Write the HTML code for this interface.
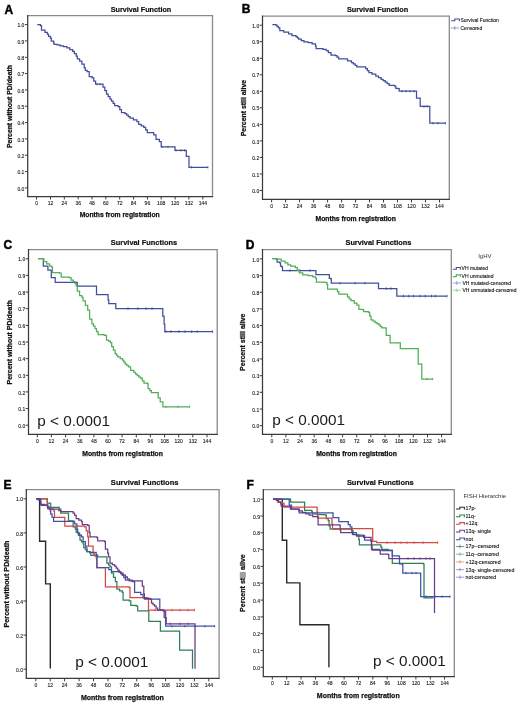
<!DOCTYPE html><html><head><meta charset="utf-8"><style>html,body{margin:0;padding:0;background:#fff;width:520px;height:705px;overflow:hidden}svg{display:block;filter:blur(0.3px)}text{font-family:"Liberation Sans",sans-serif}.t{font-size:5px;fill:#222;stroke:#222;stroke-width:0.12px}.L{font-size:12px;font-weight:bold;fill:#000;stroke:#000;stroke-width:0.45px}.ti{font-size:7.3px;font-weight:bold;fill:#111;stroke:#111;stroke-width:0.2px}.al{font-size:6.8px;font-weight:bold;fill:#111;stroke:#111;stroke-width:0.25px}.lg{font-size:5px;fill:#111;stroke:#111;stroke-width:0.1px}.lt{font-size:6px;fill:#333}.pv{font-size:15.3px;fill:#1a1a1a}</style></head><body>
<svg width="520" height="705" viewBox="0 0 520 705">
<rect width="520" height="705" fill="#fff"/>
<path d="M27.7 15.7H212.5V196.5" fill="none" stroke="#8a8a8a" stroke-width="1.3"/>
<path d="M27.7 15.1V196.5H213.1" fill="none" stroke="#3a3a3a" stroke-width="1.25"/>
<path d="M24.9 187.9H27.7" stroke="#3a3a3a" stroke-width="1"/>
<text x="24.4" y="190.5" text-anchor="end" class="t">0.0</text>
<path d="M24.9 171.6H27.7" stroke="#3a3a3a" stroke-width="1"/>
<text x="24.4" y="174.2" text-anchor="end" class="t">0.1</text>
<path d="M24.9 155.2H27.7" stroke="#3a3a3a" stroke-width="1"/>
<text x="24.4" y="157.8" text-anchor="end" class="t">0.2</text>
<path d="M24.9 138.9H27.7" stroke="#3a3a3a" stroke-width="1"/>
<text x="24.4" y="141.5" text-anchor="end" class="t">0.3</text>
<path d="M24.9 122.6H27.7" stroke="#3a3a3a" stroke-width="1"/>
<text x="24.4" y="125.2" text-anchor="end" class="t">0.4</text>
<path d="M24.9 106.2H27.7" stroke="#3a3a3a" stroke-width="1"/>
<text x="24.4" y="108.8" text-anchor="end" class="t">0.5</text>
<path d="M24.9 89.9H27.7" stroke="#3a3a3a" stroke-width="1"/>
<text x="24.4" y="92.5" text-anchor="end" class="t">0.6</text>
<path d="M24.9 73.6H27.7" stroke="#3a3a3a" stroke-width="1"/>
<text x="24.4" y="76.2" text-anchor="end" class="t">0.7</text>
<path d="M24.9 57.3H27.7" stroke="#3a3a3a" stroke-width="1"/>
<text x="24.4" y="59.9" text-anchor="end" class="t">0.8</text>
<path d="M24.9 40.9H27.7" stroke="#3a3a3a" stroke-width="1"/>
<text x="24.4" y="43.5" text-anchor="end" class="t">0.9</text>
<path d="M24.9 24.6H27.7" stroke="#3a3a3a" stroke-width="1"/>
<text x="24.4" y="27.2" text-anchor="end" class="t">1.0</text>
<path d="M36.6 196.5V199.5" stroke="#3a3a3a" stroke-width="1"/>
<text x="36.6" y="204.9" text-anchor="middle" class="t">0</text>
<path d="M50.5 196.5V199.5" stroke="#3a3a3a" stroke-width="1"/>
<text x="50.5" y="204.9" text-anchor="middle" class="t">12</text>
<path d="M64.3 196.5V199.5" stroke="#3a3a3a" stroke-width="1"/>
<text x="64.3" y="204.9" text-anchor="middle" class="t">24</text>
<path d="M78.2 196.5V199.5" stroke="#3a3a3a" stroke-width="1"/>
<text x="78.2" y="204.9" text-anchor="middle" class="t">36</text>
<path d="M92.0 196.5V199.5" stroke="#3a3a3a" stroke-width="1"/>
<text x="92.0" y="204.9" text-anchor="middle" class="t">48</text>
<path d="M105.8 196.5V199.5" stroke="#3a3a3a" stroke-width="1"/>
<text x="105.8" y="204.9" text-anchor="middle" class="t">60</text>
<path d="M119.7 196.5V199.5" stroke="#3a3a3a" stroke-width="1"/>
<text x="119.7" y="204.9" text-anchor="middle" class="t">72</text>
<path d="M133.6 196.5V199.5" stroke="#3a3a3a" stroke-width="1"/>
<text x="133.6" y="204.9" text-anchor="middle" class="t">84</text>
<path d="M147.4 196.5V199.5" stroke="#3a3a3a" stroke-width="1"/>
<text x="147.4" y="204.9" text-anchor="middle" class="t">96</text>
<path d="M161.2 196.5V199.5" stroke="#3a3a3a" stroke-width="1"/>
<text x="161.2" y="204.9" text-anchor="middle" class="t">108</text>
<path d="M175.1 196.5V199.5" stroke="#3a3a3a" stroke-width="1"/>
<text x="175.1" y="204.9" text-anchor="middle" class="t">120</text>
<path d="M188.9 196.5V199.5" stroke="#3a3a3a" stroke-width="1"/>
<text x="188.9" y="204.9" text-anchor="middle" class="t">132</text>
<path d="M202.8 196.5V199.5" stroke="#3a3a3a" stroke-width="1"/>
<text x="202.8" y="204.9" text-anchor="middle" class="t">144</text>
<text x="4.4" y="13.8" class="L">A</text>
<text x="141.0" y="11.8" text-anchor="middle" class="ti" style="font-size:7.22px">Survival Function</text>
<text x="119.7" y="217.0" text-anchor="middle" class="al" style="font-size:6.75px">Months from registration</text>
<text transform="translate(11.6 106.5) rotate(-90)" x="0" y="0" text-anchor="middle" class="al" style="font-size:6.85px">Percent without PD/death</text>
<path d="M262.5 16.2H449.3V199.4" fill="none" stroke="#8a8a8a" stroke-width="1.3"/>
<path d="M262.5 15.6V199.4H449.9" fill="none" stroke="#3a3a3a" stroke-width="1.25"/>
<path d="M259.7 190.5H262.5" stroke="#3a3a3a" stroke-width="1"/>
<text x="259.2" y="193.1" text-anchor="end" class="t">0.0</text>
<path d="M259.7 174.0H262.5" stroke="#3a3a3a" stroke-width="1"/>
<text x="259.2" y="176.6" text-anchor="end" class="t">0.1</text>
<path d="M259.7 157.4H262.5" stroke="#3a3a3a" stroke-width="1"/>
<text x="259.2" y="160.0" text-anchor="end" class="t">0.2</text>
<path d="M259.7 140.9H262.5" stroke="#3a3a3a" stroke-width="1"/>
<text x="259.2" y="143.5" text-anchor="end" class="t">0.3</text>
<path d="M259.7 124.4H262.5" stroke="#3a3a3a" stroke-width="1"/>
<text x="259.2" y="127.0" text-anchor="end" class="t">0.4</text>
<path d="M259.7 107.8H262.5" stroke="#3a3a3a" stroke-width="1"/>
<text x="259.2" y="110.4" text-anchor="end" class="t">0.5</text>
<path d="M259.7 91.3H262.5" stroke="#3a3a3a" stroke-width="1"/>
<text x="259.2" y="93.9" text-anchor="end" class="t">0.6</text>
<path d="M259.7 74.8H262.5" stroke="#3a3a3a" stroke-width="1"/>
<text x="259.2" y="77.4" text-anchor="end" class="t">0.7</text>
<path d="M259.7 58.3H262.5" stroke="#3a3a3a" stroke-width="1"/>
<text x="259.2" y="60.9" text-anchor="end" class="t">0.8</text>
<path d="M259.7 41.7H262.5" stroke="#3a3a3a" stroke-width="1"/>
<text x="259.2" y="44.3" text-anchor="end" class="t">0.9</text>
<path d="M259.7 25.2H262.5" stroke="#3a3a3a" stroke-width="1"/>
<text x="259.2" y="27.8" text-anchor="end" class="t">1.0</text>
<path d="M271.6 199.4V202.4" stroke="#3a3a3a" stroke-width="1"/>
<text x="271.6" y="207.8" text-anchor="middle" class="t">0</text>
<path d="M285.6 199.4V202.4" stroke="#3a3a3a" stroke-width="1"/>
<text x="285.6" y="207.8" text-anchor="middle" class="t">12</text>
<path d="M299.6 199.4V202.4" stroke="#3a3a3a" stroke-width="1"/>
<text x="299.6" y="207.8" text-anchor="middle" class="t">24</text>
<path d="M313.6 199.4V202.4" stroke="#3a3a3a" stroke-width="1"/>
<text x="313.6" y="207.8" text-anchor="middle" class="t">36</text>
<path d="M327.6 199.4V202.4" stroke="#3a3a3a" stroke-width="1"/>
<text x="327.6" y="207.8" text-anchor="middle" class="t">48</text>
<path d="M341.6 199.4V202.4" stroke="#3a3a3a" stroke-width="1"/>
<text x="341.6" y="207.8" text-anchor="middle" class="t">60</text>
<path d="M355.5 199.4V202.4" stroke="#3a3a3a" stroke-width="1"/>
<text x="355.5" y="207.8" text-anchor="middle" class="t">72</text>
<path d="M369.5 199.4V202.4" stroke="#3a3a3a" stroke-width="1"/>
<text x="369.5" y="207.8" text-anchor="middle" class="t">84</text>
<path d="M383.5 199.4V202.4" stroke="#3a3a3a" stroke-width="1"/>
<text x="383.5" y="207.8" text-anchor="middle" class="t">96</text>
<path d="M397.5 199.4V202.4" stroke="#3a3a3a" stroke-width="1"/>
<text x="397.5" y="207.8" text-anchor="middle" class="t">108</text>
<path d="M411.5 199.4V202.4" stroke="#3a3a3a" stroke-width="1"/>
<text x="411.5" y="207.8" text-anchor="middle" class="t">120</text>
<path d="M425.5 199.4V202.4" stroke="#3a3a3a" stroke-width="1"/>
<text x="425.5" y="207.8" text-anchor="middle" class="t">132</text>
<path d="M439.5 199.4V202.4" stroke="#3a3a3a" stroke-width="1"/>
<text x="439.5" y="207.8" text-anchor="middle" class="t">144</text>
<text x="241.8" y="12.9" class="L">B</text>
<text x="377.5" y="11.5" text-anchor="middle" class="ti" style="font-size:7.3px">Survival Function</text>
<text x="355.7" y="220.6" text-anchor="middle" class="al" style="font-size:6.8px">Months from registration</text>
<text transform="translate(245.6 108.1) rotate(-90)" x="0" y="0" text-anchor="middle" class="al" style="font-size:6.9px">Percent still alive</text>
<path d="M28.5 249.6H217.2V434.3" fill="none" stroke="#8a8a8a" stroke-width="1.3"/>
<path d="M28.5 249.0V434.3H217.8" fill="none" stroke="#3a3a3a" stroke-width="1.25"/>
<path d="M25.7 425.2H28.5" stroke="#3a3a3a" stroke-width="1"/>
<text x="25.2" y="427.8" text-anchor="end" class="t">0.0</text>
<path d="M25.7 408.6H28.5" stroke="#3a3a3a" stroke-width="1"/>
<text x="25.2" y="411.2" text-anchor="end" class="t">0.1</text>
<path d="M25.7 391.9H28.5" stroke="#3a3a3a" stroke-width="1"/>
<text x="25.2" y="394.5" text-anchor="end" class="t">0.2</text>
<path d="M25.7 375.3H28.5" stroke="#3a3a3a" stroke-width="1"/>
<text x="25.2" y="377.9" text-anchor="end" class="t">0.3</text>
<path d="M25.7 358.6H28.5" stroke="#3a3a3a" stroke-width="1"/>
<text x="25.2" y="361.2" text-anchor="end" class="t">0.4</text>
<path d="M25.7 342.0H28.5" stroke="#3a3a3a" stroke-width="1"/>
<text x="25.2" y="344.6" text-anchor="end" class="t">0.5</text>
<path d="M25.7 325.4H28.5" stroke="#3a3a3a" stroke-width="1"/>
<text x="25.2" y="328.0" text-anchor="end" class="t">0.6</text>
<path d="M25.7 308.7H28.5" stroke="#3a3a3a" stroke-width="1"/>
<text x="25.2" y="311.3" text-anchor="end" class="t">0.7</text>
<path d="M25.7 292.1H28.5" stroke="#3a3a3a" stroke-width="1"/>
<text x="25.2" y="294.7" text-anchor="end" class="t">0.8</text>
<path d="M25.7 275.4H28.5" stroke="#3a3a3a" stroke-width="1"/>
<text x="25.2" y="278.0" text-anchor="end" class="t">0.9</text>
<path d="M25.7 258.8H28.5" stroke="#3a3a3a" stroke-width="1"/>
<text x="25.2" y="261.4" text-anchor="end" class="t">1.0</text>
<path d="M37.3 434.3V437.3" stroke="#3a3a3a" stroke-width="1"/>
<text x="37.3" y="442.7" text-anchor="middle" class="t">0</text>
<path d="M51.4 434.3V437.3" stroke="#3a3a3a" stroke-width="1"/>
<text x="51.4" y="442.7" text-anchor="middle" class="t">12</text>
<path d="M65.6 434.3V437.3" stroke="#3a3a3a" stroke-width="1"/>
<text x="65.6" y="442.7" text-anchor="middle" class="t">24</text>
<path d="M79.7 434.3V437.3" stroke="#3a3a3a" stroke-width="1"/>
<text x="79.7" y="442.7" text-anchor="middle" class="t">36</text>
<path d="M93.9 434.3V437.3" stroke="#3a3a3a" stroke-width="1"/>
<text x="93.9" y="442.7" text-anchor="middle" class="t">48</text>
<path d="M108.0 434.3V437.3" stroke="#3a3a3a" stroke-width="1"/>
<text x="108.0" y="442.7" text-anchor="middle" class="t">60</text>
<path d="M122.1 434.3V437.3" stroke="#3a3a3a" stroke-width="1"/>
<text x="122.1" y="442.7" text-anchor="middle" class="t">72</text>
<path d="M136.3 434.3V437.3" stroke="#3a3a3a" stroke-width="1"/>
<text x="136.3" y="442.7" text-anchor="middle" class="t">84</text>
<path d="M150.4 434.3V437.3" stroke="#3a3a3a" stroke-width="1"/>
<text x="150.4" y="442.7" text-anchor="middle" class="t">96</text>
<path d="M164.6 434.3V437.3" stroke="#3a3a3a" stroke-width="1"/>
<text x="164.6" y="442.7" text-anchor="middle" class="t">108</text>
<path d="M178.7 434.3V437.3" stroke="#3a3a3a" stroke-width="1"/>
<text x="178.7" y="442.7" text-anchor="middle" class="t">120</text>
<path d="M192.8 434.3V437.3" stroke="#3a3a3a" stroke-width="1"/>
<text x="192.8" y="442.7" text-anchor="middle" class="t">132</text>
<path d="M207.0 434.3V437.3" stroke="#3a3a3a" stroke-width="1"/>
<text x="207.0" y="442.7" text-anchor="middle" class="t">144</text>
<text x="3.4" y="248.8" class="L">C</text>
<text x="144.0" y="245.4" text-anchor="middle" class="ti" style="font-size:7.42px">Survival Functions</text>
<text x="122.6" y="455.9" text-anchor="middle" class="al" style="font-size:6.82px">Months from registration</text>
<text transform="translate(12.0 342.2) rotate(-90)" x="0" y="0" text-anchor="middle" class="al" style="font-size:6.98px">Percent without PD/death</text>
<path d="M262.5 249.7H451.3V434.3" fill="none" stroke="#8a8a8a" stroke-width="1.3"/>
<path d="M262.5 249.1V434.3H451.9" fill="none" stroke="#3a3a3a" stroke-width="1.25"/>
<path d="M259.7 425.7H262.5" stroke="#3a3a3a" stroke-width="1"/>
<text x="259.2" y="428.3" text-anchor="end" class="t">0.0</text>
<path d="M259.7 409.0H262.5" stroke="#3a3a3a" stroke-width="1"/>
<text x="259.2" y="411.6" text-anchor="end" class="t">0.1</text>
<path d="M259.7 392.3H262.5" stroke="#3a3a3a" stroke-width="1"/>
<text x="259.2" y="394.9" text-anchor="end" class="t">0.2</text>
<path d="M259.7 375.7H262.5" stroke="#3a3a3a" stroke-width="1"/>
<text x="259.2" y="378.3" text-anchor="end" class="t">0.3</text>
<path d="M259.7 359.0H262.5" stroke="#3a3a3a" stroke-width="1"/>
<text x="259.2" y="361.6" text-anchor="end" class="t">0.4</text>
<path d="M259.7 342.3H262.5" stroke="#3a3a3a" stroke-width="1"/>
<text x="259.2" y="344.9" text-anchor="end" class="t">0.5</text>
<path d="M259.7 325.6H262.5" stroke="#3a3a3a" stroke-width="1"/>
<text x="259.2" y="328.2" text-anchor="end" class="t">0.6</text>
<path d="M259.7 308.9H262.5" stroke="#3a3a3a" stroke-width="1"/>
<text x="259.2" y="311.5" text-anchor="end" class="t">0.7</text>
<path d="M259.7 292.3H262.5" stroke="#3a3a3a" stroke-width="1"/>
<text x="259.2" y="294.9" text-anchor="end" class="t">0.8</text>
<path d="M259.7 275.6H262.5" stroke="#3a3a3a" stroke-width="1"/>
<text x="259.2" y="278.2" text-anchor="end" class="t">0.9</text>
<path d="M259.7 258.9H262.5" stroke="#3a3a3a" stroke-width="1"/>
<text x="259.2" y="261.5" text-anchor="end" class="t">1.0</text>
<path d="M271.8 434.3V437.3" stroke="#3a3a3a" stroke-width="1"/>
<text x="271.8" y="442.7" text-anchor="middle" class="t">0</text>
<path d="M285.9 434.3V437.3" stroke="#3a3a3a" stroke-width="1"/>
<text x="285.9" y="442.7" text-anchor="middle" class="t">12</text>
<path d="M300.1 434.3V437.3" stroke="#3a3a3a" stroke-width="1"/>
<text x="300.1" y="442.7" text-anchor="middle" class="t">24</text>
<path d="M314.2 434.3V437.3" stroke="#3a3a3a" stroke-width="1"/>
<text x="314.2" y="442.7" text-anchor="middle" class="t">36</text>
<path d="M328.4 434.3V437.3" stroke="#3a3a3a" stroke-width="1"/>
<text x="328.4" y="442.7" text-anchor="middle" class="t">48</text>
<path d="M342.6 434.3V437.3" stroke="#3a3a3a" stroke-width="1"/>
<text x="342.6" y="442.7" text-anchor="middle" class="t">60</text>
<path d="M356.7 434.3V437.3" stroke="#3a3a3a" stroke-width="1"/>
<text x="356.7" y="442.7" text-anchor="middle" class="t">72</text>
<path d="M370.9 434.3V437.3" stroke="#3a3a3a" stroke-width="1"/>
<text x="370.9" y="442.7" text-anchor="middle" class="t">84</text>
<path d="M385.0 434.3V437.3" stroke="#3a3a3a" stroke-width="1"/>
<text x="385.0" y="442.7" text-anchor="middle" class="t">96</text>
<path d="M399.2 434.3V437.3" stroke="#3a3a3a" stroke-width="1"/>
<text x="399.2" y="442.7" text-anchor="middle" class="t">108</text>
<path d="M413.3 434.3V437.3" stroke="#3a3a3a" stroke-width="1"/>
<text x="413.3" y="442.7" text-anchor="middle" class="t">120</text>
<path d="M427.5 434.3V437.3" stroke="#3a3a3a" stroke-width="1"/>
<text x="427.5" y="442.7" text-anchor="middle" class="t">132</text>
<path d="M441.6 434.3V437.3" stroke="#3a3a3a" stroke-width="1"/>
<text x="441.6" y="442.7" text-anchor="middle" class="t">144</text>
<text x="245.8" y="248.8" class="L">D</text>
<text x="378.4" y="245.4" text-anchor="middle" class="ti" style="font-size:7.37px">Survival Functions</text>
<text x="356.5" y="456.1" text-anchor="middle" class="al" style="font-size:6.82px">Months from registration</text>
<text transform="translate(245.3 342.2) rotate(-90)" x="0" y="0" text-anchor="middle" class="al" style="font-size:7.04px">Percent still alive</text>
<path d="M26.3 489.6H219.1V678.3" fill="none" stroke="#8a8a8a" stroke-width="1.3"/>
<path d="M26.3 489.0V678.3H219.7" fill="none" stroke="#3a3a3a" stroke-width="1.25"/>
<path d="M23.5 669.2H26.3" stroke="#3a3a3a" stroke-width="1"/>
<text x="23.0" y="671.8" text-anchor="end" class="t">0.0</text>
<path d="M23.5 635.1H26.3" stroke="#3a3a3a" stroke-width="1"/>
<text x="23.0" y="637.7" text-anchor="end" class="t">0.2</text>
<path d="M23.5 601.0H26.3" stroke="#3a3a3a" stroke-width="1"/>
<text x="23.0" y="603.6" text-anchor="end" class="t">0.4</text>
<path d="M23.5 567.0H26.3" stroke="#3a3a3a" stroke-width="1"/>
<text x="23.0" y="569.6" text-anchor="end" class="t">0.6</text>
<path d="M23.5 532.9H26.3" stroke="#3a3a3a" stroke-width="1"/>
<text x="23.0" y="535.5" text-anchor="end" class="t">0.8</text>
<path d="M23.5 498.8H26.3" stroke="#3a3a3a" stroke-width="1"/>
<text x="23.0" y="501.4" text-anchor="end" class="t">1.0</text>
<path d="M35.8 678.3V681.3" stroke="#3a3a3a" stroke-width="1"/>
<text x="35.8" y="686.7" text-anchor="middle" class="t">0</text>
<path d="M50.2 678.3V681.3" stroke="#3a3a3a" stroke-width="1"/>
<text x="50.2" y="686.7" text-anchor="middle" class="t">12</text>
<path d="M64.6 678.3V681.3" stroke="#3a3a3a" stroke-width="1"/>
<text x="64.6" y="686.7" text-anchor="middle" class="t">24</text>
<path d="M79.1 678.3V681.3" stroke="#3a3a3a" stroke-width="1"/>
<text x="79.1" y="686.7" text-anchor="middle" class="t">36</text>
<path d="M93.5 678.3V681.3" stroke="#3a3a3a" stroke-width="1"/>
<text x="93.5" y="686.7" text-anchor="middle" class="t">48</text>
<path d="M107.9 678.3V681.3" stroke="#3a3a3a" stroke-width="1"/>
<text x="107.9" y="686.7" text-anchor="middle" class="t">60</text>
<path d="M122.3 678.3V681.3" stroke="#3a3a3a" stroke-width="1"/>
<text x="122.3" y="686.7" text-anchor="middle" class="t">72</text>
<path d="M136.7 678.3V681.3" stroke="#3a3a3a" stroke-width="1"/>
<text x="136.7" y="686.7" text-anchor="middle" class="t">84</text>
<path d="M151.2 678.3V681.3" stroke="#3a3a3a" stroke-width="1"/>
<text x="151.2" y="686.7" text-anchor="middle" class="t">96</text>
<path d="M165.6 678.3V681.3" stroke="#3a3a3a" stroke-width="1"/>
<text x="165.6" y="686.7" text-anchor="middle" class="t">108</text>
<path d="M180.0 678.3V681.3" stroke="#3a3a3a" stroke-width="1"/>
<text x="180.0" y="686.7" text-anchor="middle" class="t">120</text>
<path d="M194.4 678.3V681.3" stroke="#3a3a3a" stroke-width="1"/>
<text x="194.4" y="686.7" text-anchor="middle" class="t">132</text>
<path d="M208.8 678.3V681.3" stroke="#3a3a3a" stroke-width="1"/>
<text x="208.8" y="686.7" text-anchor="middle" class="t">144</text>
<text x="3.4" y="489.2" class="L">E</text>
<text x="144.7" y="485.0" text-anchor="middle" class="ti" style="font-size:7.57px">Survival Functions</text>
<text x="122.35" y="700.0" text-anchor="middle" class="al" style="font-size:7.0px">Months from registration</text>
<text transform="translate(9.4 584.0) rotate(-90)" x="0" y="0" text-anchor="middle" class="al" style="font-size:7.18px">Percent without PD/death</text>
<path d="M263.3 489.6H454.3V676.5" fill="none" stroke="#8a8a8a" stroke-width="1.3"/>
<path d="M263.3 489.0V676.5H454.9" fill="none" stroke="#3a3a3a" stroke-width="1.25"/>
<path d="M260.5 667.3H263.3" stroke="#3a3a3a" stroke-width="1"/>
<text x="260.0" y="669.9" text-anchor="end" class="t">0.0</text>
<path d="M260.5 650.5H263.3" stroke="#3a3a3a" stroke-width="1"/>
<text x="260.0" y="653.1" text-anchor="end" class="t">0.1</text>
<path d="M260.5 633.7H263.3" stroke="#3a3a3a" stroke-width="1"/>
<text x="260.0" y="636.3" text-anchor="end" class="t">0.2</text>
<path d="M260.5 616.9H263.3" stroke="#3a3a3a" stroke-width="1"/>
<text x="260.0" y="619.5" text-anchor="end" class="t">0.3</text>
<path d="M260.5 600.1H263.3" stroke="#3a3a3a" stroke-width="1"/>
<text x="260.0" y="602.7" text-anchor="end" class="t">0.4</text>
<path d="M260.5 583.2H263.3" stroke="#3a3a3a" stroke-width="1"/>
<text x="260.0" y="585.9" text-anchor="end" class="t">0.5</text>
<path d="M260.5 566.4H263.3" stroke="#3a3a3a" stroke-width="1"/>
<text x="260.0" y="569.0" text-anchor="end" class="t">0.6</text>
<path d="M260.5 549.6H263.3" stroke="#3a3a3a" stroke-width="1"/>
<text x="260.0" y="552.2" text-anchor="end" class="t">0.7</text>
<path d="M260.5 532.8H263.3" stroke="#3a3a3a" stroke-width="1"/>
<text x="260.0" y="535.4" text-anchor="end" class="t">0.8</text>
<path d="M260.5 516.0H263.3" stroke="#3a3a3a" stroke-width="1"/>
<text x="260.0" y="518.6" text-anchor="end" class="t">0.9</text>
<path d="M260.5 499.2H263.3" stroke="#3a3a3a" stroke-width="1"/>
<text x="260.0" y="501.8" text-anchor="end" class="t">1.0</text>
<path d="M272.3 676.5V679.5" stroke="#3a3a3a" stroke-width="1"/>
<text x="272.3" y="684.9" text-anchor="middle" class="t">0</text>
<path d="M286.7 676.5V679.5" stroke="#3a3a3a" stroke-width="1"/>
<text x="286.7" y="684.9" text-anchor="middle" class="t">12</text>
<path d="M301.0 676.5V679.5" stroke="#3a3a3a" stroke-width="1"/>
<text x="301.0" y="684.9" text-anchor="middle" class="t">24</text>
<path d="M315.4 676.5V679.5" stroke="#3a3a3a" stroke-width="1"/>
<text x="315.4" y="684.9" text-anchor="middle" class="t">36</text>
<path d="M329.7 676.5V679.5" stroke="#3a3a3a" stroke-width="1"/>
<text x="329.7" y="684.9" text-anchor="middle" class="t">48</text>
<path d="M344.1 676.5V679.5" stroke="#3a3a3a" stroke-width="1"/>
<text x="344.1" y="684.9" text-anchor="middle" class="t">60</text>
<path d="M358.5 676.5V679.5" stroke="#3a3a3a" stroke-width="1"/>
<text x="358.5" y="684.9" text-anchor="middle" class="t">72</text>
<path d="M372.8 676.5V679.5" stroke="#3a3a3a" stroke-width="1"/>
<text x="372.8" y="684.9" text-anchor="middle" class="t">84</text>
<path d="M387.2 676.5V679.5" stroke="#3a3a3a" stroke-width="1"/>
<text x="387.2" y="684.9" text-anchor="middle" class="t">96</text>
<path d="M401.5 676.5V679.5" stroke="#3a3a3a" stroke-width="1"/>
<text x="401.5" y="684.9" text-anchor="middle" class="t">108</text>
<path d="M415.9 676.5V679.5" stroke="#3a3a3a" stroke-width="1"/>
<text x="415.9" y="684.9" text-anchor="middle" class="t">120</text>
<path d="M430.3 676.5V679.5" stroke="#3a3a3a" stroke-width="1"/>
<text x="430.3" y="684.9" text-anchor="middle" class="t">132</text>
<path d="M444.6 676.5V679.5" stroke="#3a3a3a" stroke-width="1"/>
<text x="444.6" y="684.9" text-anchor="middle" class="t">144</text>
<text x="246.5" y="489.2" class="L">F</text>
<text x="380.3" y="485.0" text-anchor="middle" class="ti" style="font-size:7.47px">Survival Functions</text>
<text x="358.25" y="697.8" text-anchor="middle" class="al" style="font-size:7.0px">Months from registration</text>
<text transform="translate(245.3 583.1) rotate(-90)" x="0" y="0" text-anchor="middle" class="al" style="font-size:7.07px">Percent still alive</text>
<path d="M37.2 24.5H40.4V25.6H41.5V27.7H41.5V30.0H45.0V32.3H47.3V34.0H48.5V36.3H50.5V38.1H51.3V41.0H53.7V43.3H54.2V44.4H57.1V44.8H60.0V45.9H63.5V46.7H66.9V47.9H69.8V49.6H72.7V51.3H74.4V53.7H76.2V56.0H77.3V58.8H79.6V61.2H81.9V64.0H84.2V67.5H85.2V70.4H87.1V71.5H89.2V76.7H92.1V77.9H93.8V81.1H95.6V84.2H101.9V84.2H103.0V87.0H104.8V90.5H106.5V94.0H108.2V96.5H110.0V99.0H111.5V101.2H113.1V103.4H114.6V105.6H118.1V106.7H119.8V109.6H121.5V112.5H125.0V113.7H126.7V115.2H128.3V116.6H130.0V118.1H133.4V119.8H136.9V121.5H138.7V124.4H141.2V125.8H143.8V127.3H145.6V129.9H147.3V132.5H153.7V134.8H156.0V139.4H159.4V141.7H161.2V146.9H173.8V146.9H175.0V150.4H186.3V150.4H186.3V156.3H189.0V156.3H189.0V167.3H207.9V167.3" fill="none" stroke="#434d9c" stroke-width="1.25" stroke-linejoin="miter" stroke-linecap="butt"/>
<path d="M162.0 145.8V148.0" stroke="#434d9c" stroke-width="0.9"/>
<path d="M168.0 145.8V148.0" stroke="#434d9c" stroke-width="0.9"/>
<path d="M176.0 149.3V151.5" stroke="#434d9c" stroke-width="0.9"/>
<path d="M181.0 149.3V151.5" stroke="#434d9c" stroke-width="0.9"/>
<path d="M184.6 149.3V151.5" stroke="#434d9c" stroke-width="0.9"/>
<path d="M191.5 166.2V168.4" stroke="#434d9c" stroke-width="0.9"/>
<path d="M207.9 166.2V168.4" stroke="#434d9c" stroke-width="0.9"/>
<path d="M97.0 83.1V85.3" stroke="#434d9c" stroke-width="0.9"/>
<path d="M100.0 83.1V85.3" stroke="#434d9c" stroke-width="0.9"/>
<path d="M272.4 24.7H275.8V25.1H277.1V26.5H278.5V27.8H279.8V30.5H283.8V32.2H288.6V33.8H291.9V35.5H296.0V36.5H297.3V37.9H298.6V39.2H301.3V40.5H304.0V41.9H308.1V42.6H312.1V43.9H315.5V46.0H316.1V48.6H322.9V49.3H326.2V50.7H328.3V52.7H331.0V55.1H335.4V55.5H337.0V57.2H338.7V58.9H343.5V58.9H347.5V60.9H351.5V62.5H353.3V63.9H355.1V65.4H356.9V66.8H365.7V68.6H367.4V70.6H369.0V72.6H372.0V74.0H375.8V76.0H378.5V77.7H381.1V79.3H383.1V80.7H385.2V82.0H387.2V83.7H389.2V85.4H394.6V86.2H395.8V88.3H398.1V88.6H399.2V91.2H416.5V91.2H416.5V98.1H420.2V98.1H420.2V106.4H429.8V106.4H429.8V123.2H445.4V123.2" fill="none" stroke="#434d9c" stroke-width="1.25" stroke-linejoin="miter" stroke-linecap="butt"/>
<path d="M402.0 90.0V92.4" stroke="#434d9c" stroke-width="0.9"/>
<path d="M406.0 90.0V92.4" stroke="#434d9c" stroke-width="0.9"/>
<path d="M410.0 90.0V92.4" stroke="#434d9c" stroke-width="0.9"/>
<path d="M414.0 90.0V92.4" stroke="#434d9c" stroke-width="0.9"/>
<path d="M433.0 122.0V124.4" stroke="#434d9c" stroke-width="0.9"/>
<path d="M438.0 122.0V124.4" stroke="#434d9c" stroke-width="0.9"/>
<path d="M445.4 122.0V124.4" stroke="#434d9c" stroke-width="0.9"/>
<path d="M424.0 105.2V107.6" stroke="#434d9c" stroke-width="0.9"/>
<path d="M427.0 105.2V107.6" stroke="#434d9c" stroke-width="0.9"/>
<path d="M38.1 258.6H41.5V258.6H43.3V266.2H47.9V266.2H47.9V270.2H51.3V270.2H51.3V277.7H55.2V277.7H55.2V282.3H77.3V282.3H77.3V286.0H95.5V286.0H96.5V294.6H107.8V294.6H108.1V300.0H108.8V303.5H115.0V303.5H115.8V308.6H162.8V308.6H162.8V316.2H164.1V324.2H164.8V331.6H212.6V331.6" fill="none" stroke="#434d9c" stroke-width="1.25" stroke-linejoin="miter" stroke-linecap="butt"/>
<path d="M165.9 330.3V332.9" stroke="#434d9c" stroke-width="0.9"/>
<path d="M170.9 330.3V332.9" stroke="#434d9c" stroke-width="0.9"/>
<path d="M178.9 330.3V332.9" stroke="#434d9c" stroke-width="0.9"/>
<path d="M185.0 330.3V332.9" stroke="#434d9c" stroke-width="0.9"/>
<path d="M191.7 330.3V332.9" stroke="#434d9c" stroke-width="0.9"/>
<path d="M197.1 330.3V332.9" stroke="#434d9c" stroke-width="0.9"/>
<path d="M212.6 330.3V332.9" stroke="#434d9c" stroke-width="0.9"/>
<path d="M128.0 307.3V309.9" stroke="#434d9c" stroke-width="0.9"/>
<path d="M138.0 307.3V309.9" stroke="#434d9c" stroke-width="0.9"/>
<path d="M146.0 307.3V309.9" stroke="#434d9c" stroke-width="0.9"/>
<path d="M152.0 307.3V309.9" stroke="#434d9c" stroke-width="0.9"/>
<path d="M38.1 258.6H41.5V258.6H43.8V261.5H46.7V263.8H49.6V266.2H51.9V267.3H52.5V272.5H59.4V273.1H61.2V277.1H69.2V277.5H71.0V280.0H73.3V281.7H75.0V283.5H76.2V285.8H77.3V291.0H79.6V295.6H81.9V297.3H83.1V300.8H85.4V305.4H87.7V310.0H89.6V319.2H91.9V323.8H93.5V326.1H95.0V328.5H96.5V331.6H98.1V334.6H104.2V335.4H106.5V340.0H108.5V341.2H110.4V342.5H111.7V346.7H113.4V350.1H115.1V353.5H116.4V355.1H117.8V356.8H120.2V358.5H122.5V360.2H123.8V362.2H125.2V364.2H126.9V365.5H128.6V366.9H130.6V370.3H133.9V372.3H135.6V374.0H137.3V375.7H139.0V377.0H140.7V378.4H142.3V380.8H144.0V383.1H147.4V383.7H148.1V388.5H149.8V390.5H151.4V392.5H157.5V392.5H158.2V397.9H160.2V401.9H162.9V402.6H162.9V406.8H189.6V406.8" fill="none" stroke="#50af57" stroke-width="1.25" stroke-linejoin="miter" stroke-linecap="butt"/>
<path d="M166.0 405.6V408.0" stroke="#50af57" stroke-width="0.9"/>
<path d="M178.0 405.6V408.0" stroke="#50af57" stroke-width="0.9"/>
<path d="M189.6 405.6V408.0" stroke="#50af57" stroke-width="0.9"/>
<path d="M272.4 258.7H276.4V258.7H277.1V262.1H279.8V262.8H280.5V266.2H281.8V266.8H282.5V270.5H315.5V270.5H315.9V274.5H328.5V274.5H329.3V278.3H330.9V278.9H331.3V283.2H377.8V283.2H378.5V288.6H396.8V288.6H396.8V296.1H447.0V296.1" fill="none" stroke="#434d9c" stroke-width="1.25" stroke-linejoin="miter" stroke-linecap="butt"/>
<path d="M386.2 287.3V289.9" stroke="#434d9c" stroke-width="0.9"/>
<path d="M390.9 287.3V289.9" stroke="#434d9c" stroke-width="0.9"/>
<path d="M403.4 294.8V297.4" stroke="#434d9c" stroke-width="0.9"/>
<path d="M408.8 294.8V297.4" stroke="#434d9c" stroke-width="0.9"/>
<path d="M413.5 294.8V297.4" stroke="#434d9c" stroke-width="0.9"/>
<path d="M419.8 294.8V297.4" stroke="#434d9c" stroke-width="0.9"/>
<path d="M425.2 294.8V297.4" stroke="#434d9c" stroke-width="0.9"/>
<path d="M431.5 294.8V297.4" stroke="#434d9c" stroke-width="0.9"/>
<path d="M435.3 294.8V297.4" stroke="#434d9c" stroke-width="0.9"/>
<path d="M447.0 294.8V297.4" stroke="#434d9c" stroke-width="0.9"/>
<path d="M290.0 269.3V271.7" stroke="#434d9c" stroke-width="0.9"/>
<path d="M300.0 269.3V271.7" stroke="#434d9c" stroke-width="0.9"/>
<path d="M310.0 269.3V271.7" stroke="#434d9c" stroke-width="0.9"/>
<path d="M340.0 282.0V284.4" stroke="#434d9c" stroke-width="0.9"/>
<path d="M355.0 282.0V284.4" stroke="#434d9c" stroke-width="0.9"/>
<path d="M365.0 282.0V284.4" stroke="#434d9c" stroke-width="0.9"/>
<path d="M272.4 258.7H276.4V259.2H281.2V261.0H285.2V262.8H287.9V264.8H290.6V266.2H295.3V267.5H297.3V270.2H299.3V272.9H302.7V274.9H308.1V275.6H312.8V276.9H315.5V278.0H316.4V282.0H324.2V282.3H326.9V284.3H327.6V289.0H336.1V289.0H337.4V291.5H338.7V294.0H346.2V294.0H347.5V296.9H349.2V298.8H350.9V300.7H354.2V303.0H356.9V305.0H358.9V309.3H362.3V309.7H363.6V311.7H368.4V312.4H369.7V316.1H371.0V319.8H373.1V321.1H375.1V322.5H377.1V323.9H379.1V325.2H380.5V326.5H381.8V327.9H386.2V329.1H386.2V335.3H390.1V336.1H390.1V342.8H400.0V342.8H400.3V348.6H418.2V348.6H418.2V364.2H421.8V364.2H421.8V379.0H432.7V379.0" fill="none" stroke="#50af57" stroke-width="1.25" stroke-linejoin="miter" stroke-linecap="butt"/>
<path d="M427.0 377.8V380.2" stroke="#50af57" stroke-width="0.9"/>
<path d="M432.7 377.8V380.2" stroke="#50af57" stroke-width="0.9"/>
<path d="M36.3 498.8H39.6V498.8H39.6V541.2H45.6V541.2H45.6V583.9H50.3V583.9H50.3V668.5" fill="none" stroke="#2a2a2a" stroke-width="1.4" stroke-linejoin="miter" stroke-linecap="butt"/>
<path d="M36.3 498.8H47.3V498.8H47.3V503.0H50.2V503.5H50.7V507.3H58.8V507.3H59.3V509.2H60.8V513.1H68.5V513.1H68.5V520.8H71.5V520.8H73.1V526.9H75.4V529.2H76.2V532.3H78.5V535.4H80.0V540.0H81.5V541.9H83.1V543.8H83.8V547.7H85.3V549.6H86.9V551.5H90.0V553.1H90.8V555.4H97.7V556.9H105.4V556.9H106.9V563.1H108.5V565.0H110.0V566.9H111.5V573.1H113.5V577.3H115.4V581.5H116.9V589.2H119.6V590.8H122.3V592.3H123.1V600.0H129.2V600.8H130.8V605.4H136.2V606.2H137.7V610.8H148.3V610.8H148.8V621.3H159.8V621.3H160.4V631.0H179.6V631.0H179.6V650.2H192.5V650.2H192.5V668.8" fill="none" stroke="#2f7f56" stroke-width="1.25" stroke-linejoin="miter" stroke-linecap="butt"/>
<path d="M39.6 498.8H46.8V498.8H47.3V504.4H47.8V507.8H50.9V509.5H54.0V511.2H54.5V517.4H64.6V517.4H64.8V526.2H81.5V526.2H84.6V526.9H86.2V530.8H87.7V536.9H88.5V546.2H93.1V546.9H93.1V553.8H94.7V555.8H96.2V557.7H96.9V567.7H105.4V567.7H105.4V586.9H129.2V587.7H130.0V597.7H140.8V597.7H147.7V598.5H148.5V610.0H194.4V610.0" fill="none" stroke="#d24a45" stroke-width="1.25" stroke-linejoin="miter" stroke-linecap="butt"/>
<path d="M36.3 498.8H38.5V500.1H40.6V501.5H41.0V505.4H47.3V505.4H47.8V508.8H50.2V511.2H50.7V514.0H52.1V517.4H53.6V521.3H73.8V521.3H74.6V523.8H76.9V529.2H77.7V533.1H79.6V535.0H81.5V536.9H83.1V541.5H85.4V546.2H86.9V551.5H90.0V552.3H96.2V554.6H96.9V567.7H106.2V567.7H108.8V569.6H111.5V571.5H119.2V572.3H120.8V573.8H122.3V575.4H123.8V577.7H125.4V580.0H132.3V581.5H134.6V592.3H140.8V594.6H143.1V597.7H144.4V599.2H158.8V599.2H159.8V609.8H163.7V610.8H165.6V626.2H214.6V626.2" fill="none" stroke="#4052a8" stroke-width="1.25" stroke-linejoin="miter" stroke-linecap="butt"/>
<path d="M36.3 498.8H40.6V498.8H40.6V504.4H44.4V504.9H47.3V506.8H49.2V508.8H53.1V509.2H58.8V510.7H60.8V511.5H73.1V513.1H74.6V515.4H76.2V518.5H78.8V520.0H81.5V521.5H82.3V524.6H87.7V525.4H89.2V532.3H90.0V536.9H96.9V537.7H97.7V540.8H104.6V541.5H105.4V549.2H107.7V553.1H108.5V556.9H110.0V563.1H112.3V564.7H114.6V566.2H116.2V568.1H117.7V570.0H119.2V571.5H120.8V573.1H123.1V575.0H125.4V576.9H127.3V578.8H129.2V580.8H140.8V580.8H142.3V586.2H143.8V593.8H144.4V598.3H150.0V599.2H151.5V603.1H153.1V604.7H154.6V606.2H156.1V608.1H157.7V610.0H163.1V610.8H164.2V617.5H166.2V623.8H195.0V623.8H195.0V668.8" fill="none" stroke="#6b3c86" stroke-width="1.25" stroke-linejoin="miter" stroke-linecap="butt"/>
<path d="M155.0 608.8V611.2" stroke="#d24a45" stroke-width="0.9"/>
<path d="M163.0 608.8V611.2" stroke="#d24a45" stroke-width="0.9"/>
<path d="M172.0 608.8V611.2" stroke="#d24a45" stroke-width="0.9"/>
<path d="M180.0 608.8V611.2" stroke="#d24a45" stroke-width="0.9"/>
<path d="M188.0 608.8V611.2" stroke="#d24a45" stroke-width="0.9"/>
<path d="M194.4 608.8V611.2" stroke="#d24a45" stroke-width="0.9"/>
<path d="M172.0 625.0V627.4" stroke="#4052a8" stroke-width="0.9"/>
<path d="M185.0 625.0V627.4" stroke="#4052a8" stroke-width="0.9"/>
<path d="M195.0 625.0V627.4" stroke="#4052a8" stroke-width="0.9"/>
<path d="M205.0 625.0V627.4" stroke="#4052a8" stroke-width="0.9"/>
<path d="M214.6 625.0V627.4" stroke="#4052a8" stroke-width="0.9"/>
<path d="M170.0 622.6V625.0" stroke="#6b3c86" stroke-width="0.9"/>
<path d="M180.0 622.6V625.0" stroke="#6b3c86" stroke-width="0.9"/>
<path d="M188.0 622.6V625.0" stroke="#6b3c86" stroke-width="0.9"/>
<path d="M273.1 499.2H282.3V499.2H282.3V540.3H286.7V540.3H286.7V582.9H299.9V582.9H299.9V624.8H328.9V624.8H328.9V667.3" fill="none" stroke="#2a2a2a" stroke-width="1.4" stroke-linejoin="miter" stroke-linecap="butt"/>
<path d="M273.1 499.2H290.4V499.2H290.6V502.1H303.7V502.1H304.6V510.4H311.8V511.3H312.3V513.8H317.1V514.7H325.8V515.7H326.3V518.6H328.2V520.5H329.1V525.8H330.1V529.1H350.0V529.1H351.6V530.9H353.1V532.7H356.5V535.0H358.8V539.6H359.4V544.8H370.4V544.8H380.8V547.1H381.9V549.4H388.3V550.0H391.5V550.2H392.3V563.3H423.3V563.9H424.0V597.8H433.4V597.8" fill="none" stroke="#2f7f56" stroke-width="1.25" stroke-linejoin="miter" stroke-linecap="butt"/>
<path d="M273.1 499.2H276.5V499.2H277.5V502.0H282.3V503.0H284.0V507.0H316.6V507.0H317.1V511.8H317.6V518.1H331.5V518.1H332.0V523.8H332.5V528.7H372.7V528.7H372.7V541.3H376.7V542.6H437.7V542.6" fill="none" stroke="#d24a45" stroke-width="1.25" stroke-linejoin="miter" stroke-linecap="butt"/>
<path d="M273.1 499.2H289.2V499.2H289.2V505.0H291.5V509.0H297.9V509.0H299.3V512.8H332.5V512.8H333.0V517.6H338.3V517.6H338.8V521.5H347.6V521.5H348.3V524.6H350.2V526.9H351.9V531.0H352.5V534.4H356.5V535.0H363.5V535.6H364.6V540.2H371.0V540.2H371.5V546.0H372.1V550.0H381.9V550.6H391.2V550.6H392.3V555.8H398.8V556.0H399.5V563.9H402.4V564.6H402.8V573.0H420.4V573.0H420.7V596.6H450.0V596.6" fill="none" stroke="#4052a8" stroke-width="1.25" stroke-linejoin="miter" stroke-linecap="butt"/>
<path d="M273.1 499.2H276.5V500.4H278.6V502.1H280.6V503.8H281.2V506.2H289.8V506.2H290.4V509.0H296.7V509.0H298.8V510.9H302.3V512.3H305.8V513.8H309.3V515.2H312.8V516.6H318.1V518.1H318.1V524.8H339.7V525.3H340.2V530.1H340.7V532.7H349.6V532.7H353.1V534.5H356.5V536.2H363.5V537.3H369.8V537.3H371.0V541.3H371.5V549.4H379.6V550.0H380.2V554.0H388.3V554.6H388.8V558.5H434.1V558.5H434.5V612.9" fill="none" stroke="#6b3c86" stroke-width="1.25" stroke-linejoin="miter" stroke-linecap="butt"/>
<path d="M387.0 541.4V543.8" stroke="#d24a45" stroke-width="0.9"/>
<path d="M395.0 541.4V543.8" stroke="#d24a45" stroke-width="0.9"/>
<path d="M401.0 541.4V543.8" stroke="#d24a45" stroke-width="0.9"/>
<path d="M407.0 541.4V543.8" stroke="#d24a45" stroke-width="0.9"/>
<path d="M414.0 541.4V543.8" stroke="#d24a45" stroke-width="0.9"/>
<path d="M423.0 541.4V543.8" stroke="#d24a45" stroke-width="0.9"/>
<path d="M437.7 541.4V543.8" stroke="#d24a45" stroke-width="0.9"/>
<path d="M408.0 557.3V559.7" stroke="#6b3c86" stroke-width="0.9"/>
<path d="M414.0 557.3V559.7" stroke="#6b3c86" stroke-width="0.9"/>
<path d="M420.0 557.3V559.7" stroke="#6b3c86" stroke-width="0.9"/>
<path d="M426.0 557.3V559.7" stroke="#6b3c86" stroke-width="0.9"/>
<path d="M430.0 557.3V559.7" stroke="#6b3c86" stroke-width="0.9"/>
<path d="M406.0 571.8V574.2" stroke="#4052a8" stroke-width="0.9"/>
<path d="M412.0 571.8V574.2" stroke="#4052a8" stroke-width="0.9"/>
<path d="M416.0 571.8V574.2" stroke="#4052a8" stroke-width="0.9"/>
<path d="M426.0 595.4V597.8" stroke="#4052a8" stroke-width="0.9"/>
<path d="M435.0 595.4V597.8" stroke="#4052a8" stroke-width="0.9"/>
<path d="M442.0 595.4V597.8" stroke="#4052a8" stroke-width="0.9"/>
<path d="M450.0 595.4V597.8" stroke="#4052a8" stroke-width="0.9"/>
<text x="37.2" y="425.7" class="pv">p &lt; 0.0001</text>
<text x="272.2" y="425.4" class="pv">p &lt; 0.0001</text>
<text x="75.2" y="666.6" class="pv" style="font-size:15.4px">p &lt; 0.0001</text>
<text x="373.0" y="666.4" class="pv">p &lt; 0.0001</text>
<path d="M451.2 20.7H454.8V19.0H459.3V21.2" fill="none" stroke="#434d9c" stroke-width="1.1"/>
<text x="460.5" y="21.9" class="lg">Survival Function</text>
<path d="M450.9 28.0H459.0M454.8 26.2V29.8" fill="none" stroke="#6070c0" stroke-width="0.8" opacity="0.85"/>
<text x="460.5" y="30.0" class="lg">Censored</text>
<text x="484.8" y="258.0" text-anchor="middle" class="lt">IgHV</text>
<path d="M452.9 269.2H456.3V267.5H460.4V269.7" fill="none" stroke="#434d9c" stroke-width="1.1"/>
<text x="461.6" y="270.3" class="lg">VH mutated</text>
<path d="M452.9 276.6H456.3V274.9H460.4V277.1" fill="none" stroke="#50af57" stroke-width="1.1"/>
<text x="461.6" y="277.7" class="lg">VH unmutated</text>
<path d="M452.9 283.0H461.0M456.8 281.2V284.8" fill="none" stroke="#6a78c8" stroke-width="0.8" opacity="0.85"/>
<text x="462.4" y="284.9" class="lg">VH mutated-censored</text>
<path d="M452.9 290.2H461.0M456.8 288.4V292.0" fill="none" stroke="#6cc46c" stroke-width="0.8" opacity="0.85"/>
<text x="462.4" y="292.1" class="lg">VH unmutated-censored</text>
<text x="484.8" y="498.0" text-anchor="middle" class="lt">FISH Hierarchie</text>
<path d="M456.0 509.0H459.8V507.3H464.4V509.5" fill="none" stroke="#2a2a2a" stroke-width="1.1"/>
<text x="465.6" y="510.1" class="lg" style="font-size:5.22px">17p-</text>
<path d="M456.0 516.7H459.8V515.0H464.4V517.2" fill="none" stroke="#2f7f56" stroke-width="1.1"/>
<text x="465.6" y="517.8" class="lg" style="font-size:5.22px">11q-</text>
<path d="M456.0 524.3H459.8V522.6H464.4V524.8" fill="none" stroke="#d24a45" stroke-width="1.1"/>
<text x="465.6" y="525.4" class="lg" style="font-size:5.22px">+12q</text>
<path d="M456.0 532.0H459.8V530.3H464.4V532.5" fill="none" stroke="#6b3c86" stroke-width="1.1"/>
<text x="465.6" y="533.1" class="lg" style="font-size:5.22px">13q- single</text>
<path d="M456.0 539.7H459.8V538.0H464.4V540.2" fill="none" stroke="#4052a8" stroke-width="1.1"/>
<text x="465.6" y="540.8" class="lg" style="font-size:5.22px">not</text>
<path d="M456.0 546.5H464.1M459.9 544.7V548.3" fill="none" stroke="#555" stroke-width="0.8" opacity="0.85"/>
<text x="465.6" y="548.4" class="lg" style="font-size:5.22px">17p--censored</text>
<path d="M456.0 554.2H464.1M459.9 552.4V556.0" fill="none" stroke="#4a9a7a" stroke-width="0.8" opacity="0.85"/>
<text x="465.6" y="556.1" class="lg" style="font-size:5.22px">11q--censored</text>
<path d="M456.0 561.9H464.1M459.9 560.1V563.7" fill="none" stroke="#e77070" stroke-width="0.8" opacity="0.85"/>
<text x="465.6" y="563.8" class="lg" style="font-size:5.22px">+12q-censored</text>
<path d="M456.0 569.6H464.1M459.9 567.8V571.4" fill="none" stroke="#8a66a6" stroke-width="0.8" opacity="0.85"/>
<text x="465.6" y="571.5" class="lg" style="font-size:5.22px">13q- single-censored</text>
<path d="M456.0 577.2H464.1M459.9 575.4V579.0" fill="none" stroke="#6a7ac8" stroke-width="0.8" opacity="0.85"/>
<text x="465.6" y="579.1" class="lg" style="font-size:5.22px">not-censored</text>
<rect x="240" y="572.1" width="5.8" height="5.6" fill="#a0a0a0"/>
</svg></body></html>
